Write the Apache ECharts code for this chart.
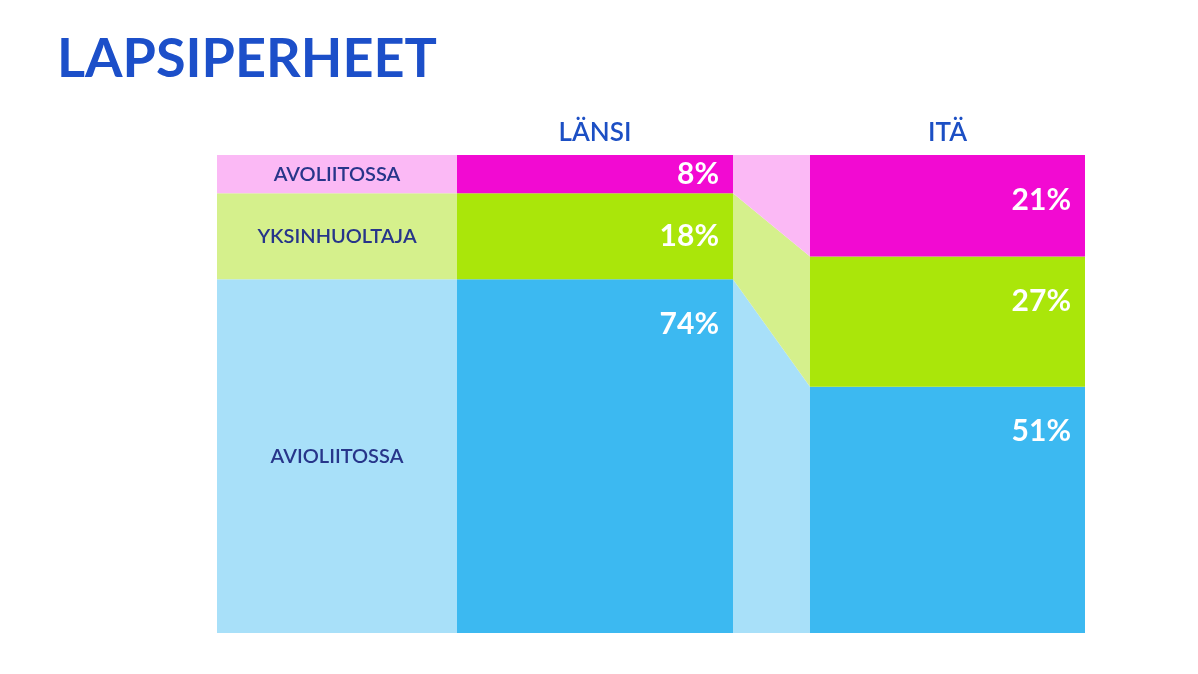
<!DOCTYPE html>
<html>
<head>
<meta charset="utf-8">
<script src="https://cdn.jsdelivr.net/npm/echarts@6/dist/echarts.min.js"></script>
<style>html,body{margin:0;padding:0;background:#fff}#chart_1{width:1198px;height:674px}</style>
</head>
<body>
<div id="chart_1"></div>
<script>
var groups = ['LÄNSI', 'ITÄ'];
var segments = ['AVIOLIITOSSA', 'YKSINHUOLTAJA', 'AVOLIITOSSA'];
var lansi = [74, 18, 8];
var ita = [51, 27, 21];

var dark = ['#3cb9f1', '#aae60a', '#f20ad2'];
var light = ['#a8e0f9', '#d5f08c', '#fbb9f5'];

// column edges on x (pixel-like units)
var colLabel = [0, 240], colL = [240, 516], colI = [593, 868];

function stacks(vals) {
    var total = vals.reduce(function (a, b) { return a + b; }, 0);
    var out = [], acc = 0;
    vals.forEach(function (v) {
        out.push([acc / total * 100, (acc + v) / total * 100]);
        acc += v;
    });
    return out;
}
var sL = stacks(lansi), sI = stacks(ita);

var myChart = echarts.init(document.getElementById('chart_1'));

function renderItem(params, api) {
    var i = params.dataIndex;
    var c = [];
    function rect(x0, x1, y0, y1, color) {
        var p0 = api.coord([x0, y1]), p1 = api.coord([x1, y0]);
        return { type: 'rect', shape: { x: p0[0], y: p0[1], width: p1[0] - p0[0], height: p1[1] - p0[1] }, style: { fill: color } };
    }
    c.push(rect(colLabel[0], colLabel[1], sL[i][0], sL[i][1], light[i]));
    c.push(rect(colL[0], colL[1], sL[i][0], sL[i][1], dark[i]));
    c.push(rect(colI[0], colI[1], sI[i][0], sI[i][1], dark[i]));
    c.push({
        type: 'polygon',
        shape: { points: [api.coord([colL[1], sL[i][0]]), api.coord([colL[1], sL[i][1]]), api.coord([colI[0], sI[i][1]]), api.coord([colI[0], sI[i][0]])] },
        style: { fill: light[i] }
    });
    // left label
    var lc = api.coord([(colLabel[0] + colLabel[1]) / 2, (sL[i][0] + sL[i][1]) / 2]);
    c.push({ type: 'text', x: lc[0], y: lc[1], style: { text: segments[i], fill: '#27358a', font: '600 20px Lato', align: 'center', verticalAlign: 'middle' } });
    // values
    [[sL, lansi, colL], [sI, ita, colI]].forEach(function (g) {
        var top = api.coord([g[2][1], g[0][i][1]]), bot = api.coord([g[2][1], g[0][i][0]]);
        var y = Math.min((top[1] + bot[1]) / 2, top[1] + 45);
        c.push({ type: 'text', x: top[0] - 14, y: y, style: { text: g[1][i] + '%', fill: '#fff', font: 'bold 30px Lato', align: 'right', verticalAlign: 'middle' } });
    });
    if (i === 0) {
        [[colL, groups[0]], [colI, groups[1]]].forEach(function (g) {
            var p = api.coord([(g[0][0] + g[0][1]) / 2, 100]);
            c.push({ type: 'text', x: p[0], y: p[1] - 22, style: { text: g[1], fill: '#1c4fc4', font: '600 26px Lato', align: 'center', verticalAlign: 'middle' } });
        });
    }
    return { type: 'group', children: c };
}

var option = {
    animation: false,
    title: {
        text: 'LAPSIPERHEET', left: 52, top: 28,
        textStyle: { color: '#1c4fc9', fontSize: 54, fontWeight: 'bold', fontFamily: 'Lato' }
    },
    grid: { left: 217, right: 113, top: 155, bottom: 41 },
    xAxis: { type: 'value', min: 0, max: 868, show: false },
    yAxis: { type: 'value', min: 0, max: 100, show: false },
    series: [{
        type: 'custom',
        renderItem: renderItem,
        data: segments.map(function (s, i) { return [i]; })
    }]
};

myChart.setOption(option);
window.addEventListener("resize", function () {
    myChart.resize();
});
</script>
</body>
</html>
